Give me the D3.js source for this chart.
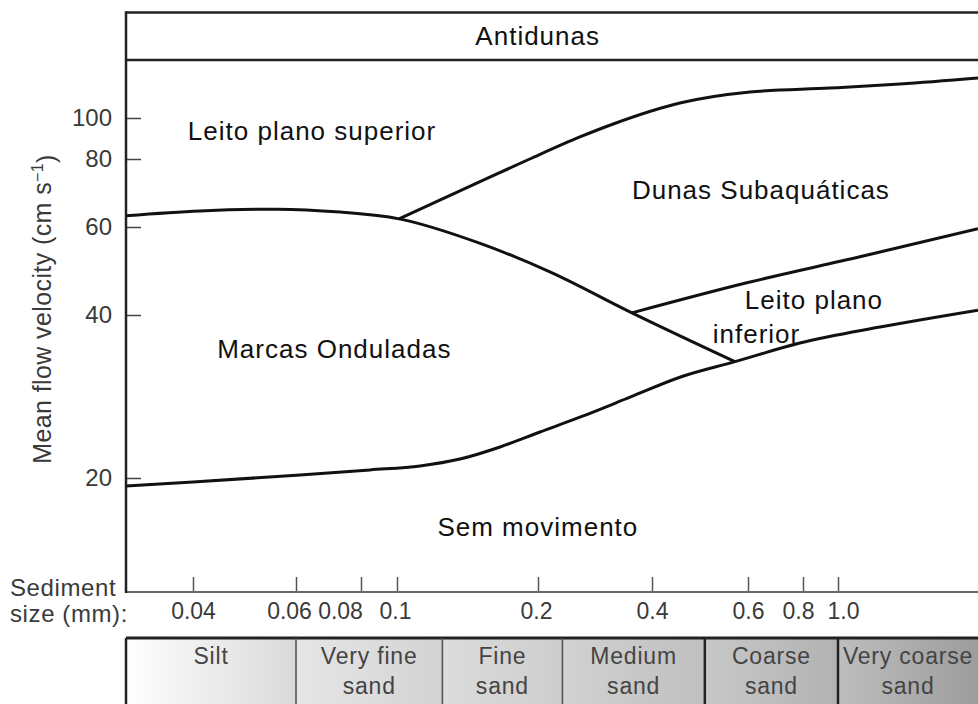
<!DOCTYPE html>
<html>
<head>
<meta charset="utf-8">
<script src="https://cdn.jsdelivr.net/npm/d3@7"></script>
<style>
  body { margin: 0; background: #fff; }
  svg { display: block; font-family: "Liberation Sans", Arial, Helvetica, sans-serif; }
</style>
</head>
<body>
<div id="chart"></div>
<script>
// axis ticks: grain size (mm) and mean flow velocity (cm/s)
const sizeTicks = [0.04, 0.06, 0.08, 0.1, 0.2, 0.4, 0.6, 0.8, 1.0];
const sizeTickLabels = ["0.04", "0.06", "0.08", "0.1", "0.2", "0.4", "0.6", "0.8", "1.0"];
const velocityTicks = [20, 40, 60, 80, 100];

// bedform boundaries, [size mm, velocity cm/s]
const rippleTop = [[0.03, 62.8], [0.0411, 64.2], [0.0557, 64.7], [0.0729, 63.9], [0.101, 62.1],
  [0.150, 55.7], [0.215, 48.8], [0.354, 40.4], [0.568, 32.8]];
const duneTop = [[0.101, 62.1], [0.150, 72.6], [0.192, 80.0], [0.258, 90.2], [0.316, 96.8],
  [0.450, 108.5], [0.606, 115.2], [0.950, 117.7], [1.485, 120.3], [2.441, 124.3]];
const duneBottom = [[0.354, 40.4], [0.597, 46.4], [1.15, 52.3], [2.441, 59.5]];
const motionThreshold = [[0.03, 19.3], [0.04, 19.66], [0.0611, 20.26], [0.0846, 20.7], [0.112, 21.05],
  [0.1363, 21.68], [0.166, 22.82], [0.2024, 24.32], [0.258, 25.9], [0.350, 28.2], [0.450, 30.7],
  [0.568, 32.8], [0.787, 35.5], [1.307, 38.0], [2.441, 40.9]];

// region names, placed at [size mm, velocity cm/s] (left edge, baseline)
const regionLabels = [
  { text: "Leito plano superior", size: 0.0392, velocity: 88.7 },
  { text: "Dunas Subaquáticas", size: 0.354, velocity: 67.5 },
  { text: "Marcas Onduladas", size: 0.044, velocity: 33.3 },
  { text: "Leito plano", size: 0.592, velocity: 41.1 },
  { text: "inferior", size: 0.517, velocity: 35.5 },
  { text: "Sem movimento", size: 0.122, velocity: 15.6 }
];
const topBandLabel = "Antidunas";
const topBandSize = 0.147;

// Wentworth classes drawn under the axis
const grainBreaks = [0.06, 0.125, 0.232, 0.5, 1.0];
const grainClasses = [["Silt"], ["Very fine", "sand"], ["Fine", "sand"], ["Medium", "sand"],
  ["Coarse", "sand"], ["Very coarse", "sand"]];

const width = 978, height = 704;
const frame = { left: 126, right: 978, top: 12.5, band: 60, axis: 592, table: 638, bottom: 704 };

// hand drawn log axes: tick positions are uneven, so map them piecewise
const x = d3.scaleLog()
  .domain(sizeTicks)
  .range([193, 296, 361, 397, 538, 652, 748, 803, 838]);
const y = d3.scaleLog()
  .domain(velocityTicks)
  .range([478, 315, 227, 159, 118]);

const svg = d3.select("#chart")
  .append("svg")
  .attr("width", width)
  .attr("height", height)
  .attr("viewBox", `0 0 ${width} ${height}`);

const defs = svg.append("defs");
defs.append("clipPath")
  .attr("id", "plot-clip")
  .append("rect")
  .attr("x", frame.left)
  .attr("y", frame.band)
  .attr("width", frame.right - frame.left)
  .attr("height", frame.axis - frame.band);

// grain size table
const cellShades = [["#ffffff", "#d9d9d9"], ["#e6e6e6", "#d3d3d3"], ["#dcdcdc", "#cdcdcd"],
  ["#d2d2d2", "#bfbfbf"], ["#c8c8c8", "#b2b2b2"], ["#bebebe", "#9c9c9c"]];
const edges = [frame.left, ...grainBreaks.map(x), frame.right];

cellShades.forEach((c, i) => {
  const grad = defs.append("linearGradient").attr("id", `cell-${i}`);
  grad.append("stop").attr("offset", "0%").attr("stop-color", c[0]);
  grad.append("stop").attr("offset", "100%").attr("stop-color", c[1]);
});

const cells = svg.append("g")
  .selectAll("g")
  .data(grainClasses)
  .join("g");

cells.append("rect")
  .attr("x", (d, i) => edges[i])
  .attr("y", frame.table)
  .attr("width", (d, i) => edges[i + 1] - edges[i])
  .attr("height", frame.bottom - frame.table)
  .attr("fill", (d, i) => `url(#cell-${i})`);

cells.append("text")
  .attr("text-anchor", "middle")
  .attr("fill", "#444")
  .style("font-size", "23px")
  .style("letter-spacing", "0.8px")
  .selectAll("tspan")
  .data((d, i) => d.map(t => ({ t, cx: (edges[i] + edges[i + 1]) / 2 })))
  .join("tspan")
  .attr("x", d => d.cx)
  .attr("y", (d, j) => 664 + j * 30)
  .text(d => d.t);

svg.append("line")
  .attr("x1", frame.left).attr("x2", frame.right)
  .attr("y1", frame.table).attr("y2", frame.table)
  .attr("stroke", "#222").attr("stroke-width", 3);

svg.append("g")
  .selectAll("line")
  .data(edges.slice(0, -1))
  .join("line")
  .attr("x1", d => d).attr("x2", d => d)
  .attr("y1", frame.table).attr("y2", frame.bottom)
  .attr("stroke", (d, i) => i === 0 || i >= 4 ? "#222" : "#555")
  .attr("stroke-width", (d, i) => i === 0 || i >= 4 ? 2.5 : 1.6);

// axes
const xAxis = d3.axisBottom(x)
  .tickValues(sizeTicks)
  .tickFormat((d, i) => sizeTickLabels[i])
  .tickSize(-15)
  .tickPadding(11);

const labelNudge = { 0.06: -7, 0.08: -21, 0.1: -2, 0.2: -2, 0.8: -5, 1: 5 };

svg.append("g")
  .attr("transform", `translate(0,${frame.axis})`)
  .call(xAxis)
  .call(g => g.select(".domain").remove())
  .call(g => g.selectAll(".tick line").attr("stroke", "#555").attr("stroke-width", 1.5))
  .call(g => g.selectAll(".tick text")
    .attr("fill", "#3a3a3a")
    .attr("dx", d => labelNudge[d] || 0)
    .style("font-size", "23px"))
  .attr("font-family", null)
  .attr("font-size", null);

const yAxis = d3.axisLeft(y)
  .tickValues(velocityTicks)
  .tickFormat(d3.format("d"))
  .tickSize(-15)
  .tickPadding(14);

svg.append("g")
  .attr("transform", `translate(${frame.left},0)`)
  .call(yAxis)
  .call(g => g.select(".domain").remove())
  .call(g => g.selectAll(".tick line").attr("stroke", "#444").attr("stroke-width", 1.5))
  .call(g => g.selectAll(".tick text")
    .attr("fill", "#3a3a3a")
    .style("font-size", "24px"))
  .attr("font-family", null)
  .attr("font-size", null);

// frame
svg.append("line")
  .attr("x1", frame.left).attr("x2", frame.right)
  .attr("y1", frame.axis).attr("y2", frame.axis)
  .attr("stroke", "#666").attr("stroke-width", 2);

[frame.top, frame.band].forEach(yy => {
  svg.append("line")
    .attr("x1", frame.left).attr("x2", frame.right)
    .attr("y1", yy).attr("y2", yy)
    .attr("stroke", "#222").attr("stroke-width", 2.5);
});

svg.append("line")
  .attr("x1", frame.left).attr("x2", frame.left)
  .attr("y1", frame.top - 1.25).attr("y2", frame.axis + 1)
  .attr("stroke", "#222").attr("stroke-width", 2.5);

// boundaries
const line = d3.line()
  .x(d => x(d[0]))
  .y(d => y(d[1]))
  .curve(d3.curveMonotoneX);

svg.append("g")
  .attr("clip-path", "url(#plot-clip)")
  .selectAll("path")
  .data([rippleTop, duneTop, duneBottom, motionThreshold])
  .join("path")
  .attr("d", line)
  .attr("fill", "none")
  .attr("stroke", "#111")
  .attr("stroke-width", 3)
  .attr("stroke-linejoin", "round");

// labels
svg.append("g")
  .selectAll("text")
  .data(regionLabels)
  .join("text")
  .attr("x", d => x(d.size))
  .attr("y", d => y(d.velocity))
  .attr("fill", "#111")
  .style("font-size", "26px")
  .style("letter-spacing", "1px")
  .text(d => d.text);

svg.append("text")
  .attr("x", x(topBandSize))
  .attr("y", (frame.top + frame.band) / 2)
  .attr("dy", "0.35em")
  .attr("fill", "#111")
  .style("font-size", "26px")
  .style("letter-spacing", "1px")
  .text(topBandLabel);

const yLabel = svg.append("text")
  .attr("transform", "translate(42,309) rotate(-90)")
  .attr("text-anchor", "middle")
  .attr("dy", "0.35em")
  .attr("fill", "#3a3a3a")
  .style("font-size", "25px")
  .style("letter-spacing", "0.4px");
yLabel.append("tspan").text("Mean flow velocity (cm s");
yLabel.append("tspan").attr("dy", "-0.5em").style("font-size", "16px").text("−1");
yLabel.append("tspan").attr("dy", "0.5em").text(")");

const sizeLabel = svg.append("text")
  .attr("fill", "#3a3a3a")
  .style("font-size", "24px")
  .style("letter-spacing", "0.6px");
sizeLabel.append("tspan").attr("x", 10).attr("y", 596).text("Sediment");
sizeLabel.append("tspan").attr("x", 10).attr("y", 622).text("size (mm):");
</script>
</body>
</html>
